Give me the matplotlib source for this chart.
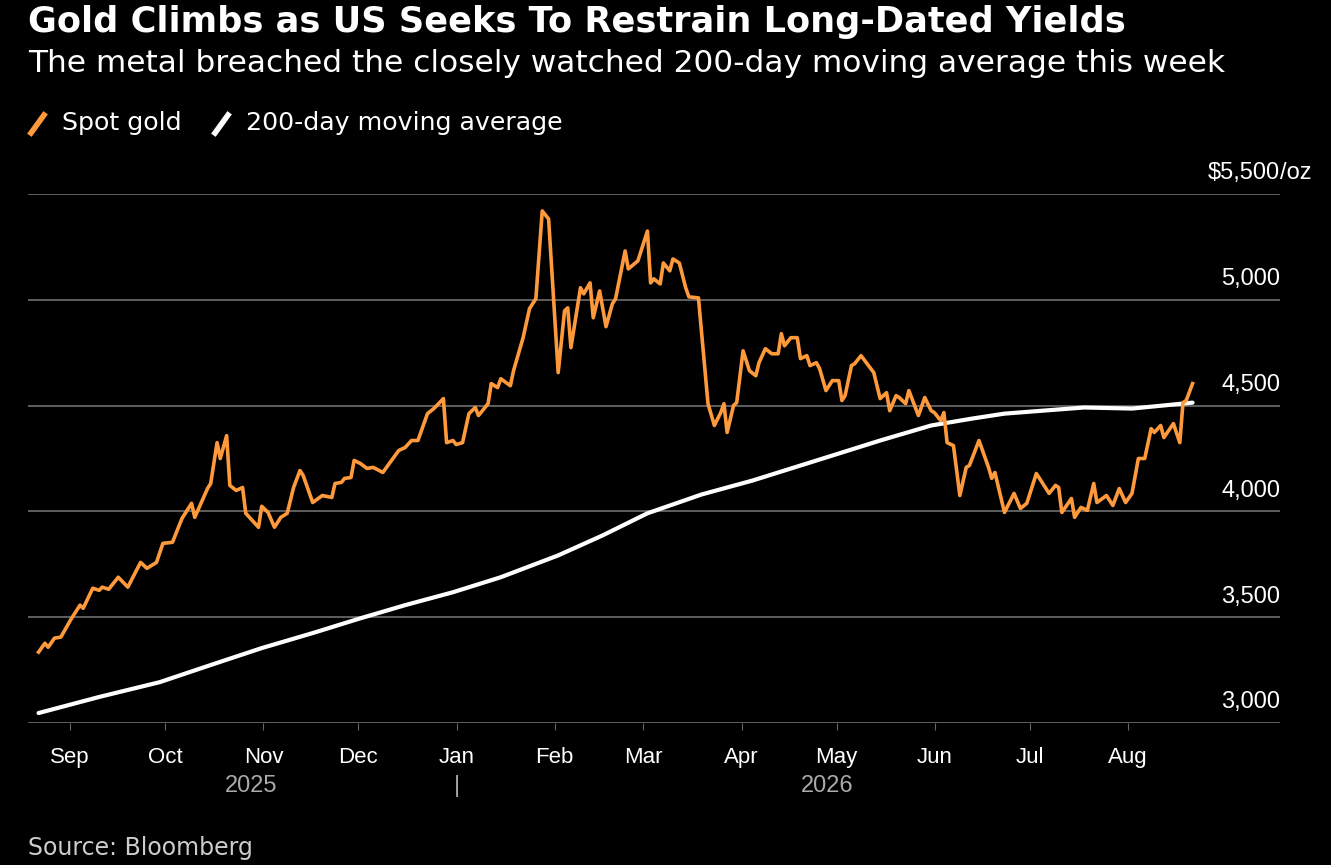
import matplotlib
matplotlib.use("Agg")
import matplotlib.pyplot as plt
from matplotlib.lines import Line2D
import pandas as pd

start = pd.Timestamp("2025-08-22")
gold_days = [0,2,3,5,7,10,13,14,17,19,20,22,25,28,32,34,37,39,42,45,48,49,53,54,56,57,59,60,62,64,65,69,70,72,74,76,78,80,82,83,86,89,92,93,95,96,98,99,101,103,105,108,110,113,115,117,119,122,124,127,128,130,131,133,
 135,137,138,141,142,144,145,148,149,152,154,156,158,160,162,163,165,166,167,170,171,173,174,176,178,180,181,184,185,188,191,192,193,195,196,198,199,201,203,204,207,210,212,214,215,216,218,219,221,223,225,226,228,230,232,233,234,236,238,239,241,242,244,245,247,249,251,252,
 253,255,256,258,262,264,266,267,269,270,272,273,276,278,280,281,283,284,285,287,289,291,292,295,298,299,300,303,306,308,310,313,314,317,319,320,321,324,325,327,329,331,332,335,337,339,341,343,345,347,349,350,352,353,356,358,359,360,362]
gold_vals = [3335,3377,3358,3401,3406,3486,3557,3542,3637,3627,3642,3632,3689,3642,3759,3731,3759,3849,3854,3967,4038,3972,4108,4132,4325,4250,4358,4123,4099,4113,3991,3925,4024,3995,3925,3972,3991,4113,4193,4170,4042,4075,4066,4132,4137,4156,4160,4241,4226,4203,4208,4184,4226,4288,4302,4335,4335,4462,4486,4533,4325,4335,4316,4325,
 4462,4491,4453,4509,4604,4585,4627,4594,4665,4821,4958,5005,5420,5382,4901,4656,4948,4962,4774,5057,5028,5080,4915,5042,4873,4981,5005,5231,5146,5184,5325,5080,5099,5075,5174,5137,5193,5174,5057,5014,5009,4509,4406,4467,4509,4373,4500,4514,4759,4665,4641,4703,4769,4745,4745,4840,4783,4821,4821,4722,4736,4689,4703,4675,4571,4618,4618,4524,
 4547,4689,4698,4736,4656,4533,4561,4476,4547,4538,4509,4571,4453,4538,4476,4467,4429,4467,4325,4311,4075,4208,4217,4335,4208,4156,4184,3995,4085,4014,4038,4179,4156,4085,4123,4113,3995,4061,3972,4019,4005,4132,4042,4075,4028,4108,4042,4085,4250,4250,4391,4373,4406,4349,4415,4325,4514,4524,4604]
ma_days = [0,19,38,54,70,86,101,115,130,145,163,177,191,208,224,249,264,280,293,303,315,328,343,362]
ma_vals = [3047,3123,3193,3274,3354,3425,3495,3557,3618,3689,3792,3887,3991,4080,4146,4264,4335,4406,4439,4462,4476,4491,4486,4514]
y_ticks = [3000,3500,4000,4500,5000,5500]
y_labels = ["3,000","3,500","4,000","4,500","5,000","$5,500"]
month_labels = ["Sep","Oct","Nov","Dec","Jan","Feb","Mar","Apr","May","Jun","Jul","Aug"]
month_starts = pd.date_range("2025-09-01", periods=12, freq="MS")
day_scale = 1.0066  # correction of the day reading scale

plt.rcParams['font.family'] = ['DejaVu Sans']
W, H = 1331, 865
fig = plt.figure(figsize=(W/100, H/100), dpi=100, facecolor="black")
ax = fig.add_axes([28/W, 1-723/H, (1280-28)/W, (723-194)/H], facecolor="black")

gd = start + pd.to_timedelta([d*day_scale for d in gold_days], unit="D")
md = start + pd.to_timedelta([d*day_scale for d in ma_days], unit="D")
ax.plot(md, ma_vals, color="white", lw=3.0, solid_capstyle="round", zorder=3)
ax.plot(gd, gold_vals, color="#ff9a3c", lw=2.6, solid_joinstyle="round", zorder=4)

ax.set_xlim(pd.Timestamp("2025-08-18 16:00"), pd.Timestamp("2026-09-18"))
ax.set_ylim(3000, 5500)
for s in ax.spines.values():
    s.set_visible(False)
for t in y_ticks:
    ax.axhline(t, color="#666666", lw=1.3, zorder=1)
ax.set_yticks([])
tf = ax.get_yaxis_transform()
for t, lab in zip(y_ticks, y_labels):
    ax.text(1.0, t + 45, lab, transform=tf, ha="right", va="bottom",
            family="Liberation Sans", color="white", fontsize=17)
ax.text(1.0, 5500 + 45, "/oz", transform=tf, ha="left", va="bottom",
        family="Liberation Sans", color="white", fontsize=17)
ax.set_xticks(month_starts)
ax.set_xticklabels(month_labels, color="white", fontsize=16, family="Liberation Sans")
ax.tick_params(axis="x", length=5, color="#666666", pad=12)
xt = ax.get_xaxis_transform()
for d, s in [("2025-10-28", "2025"), ("2026-04-28", "2026"), ("2026-01-01", "|")]:
    ax.text(pd.Timestamp(d), -0.098, s, transform=xt, ha="center", va="top",
            color="#aaaaaa", fontsize=17, family="Liberation Sans")

fig.text(28/W, 1-22/H, "Gold Climbs as US Seeks To Restrain Long-Dated Yields", color="white",
         fontsize=25.3, fontweight="bold", va="center", ha="left")
fig.text(28/W, 1-63/H, "The metal breached the closely watched 200-day moving average this week",
         color="white", fontsize=22.5, va="center", ha="left")
fig.add_artist(Line2D([31/W, 44/W], [1-133/H, 1-115/H], color="#ff9a3c", lw=4, transform=fig.transFigure))
fig.add_artist(Line2D([215/W, 228/W], [1-133/H, 1-115/H], color="white", lw=4, transform=fig.transFigure))
fig.text(62/W, 1-123/H, "Spot gold", color="white", fontsize=18.2, va="center")
fig.text(246/W, 1-123/H, "200-day moving average", color="white", fontsize=18.2, va="center")
fig.text(28/W, 1-848/H, "Source: Bloomberg", color="#cccccc", fontsize=17, va="center")

fig.savefig("out.png", dpi=100, facecolor="black")
